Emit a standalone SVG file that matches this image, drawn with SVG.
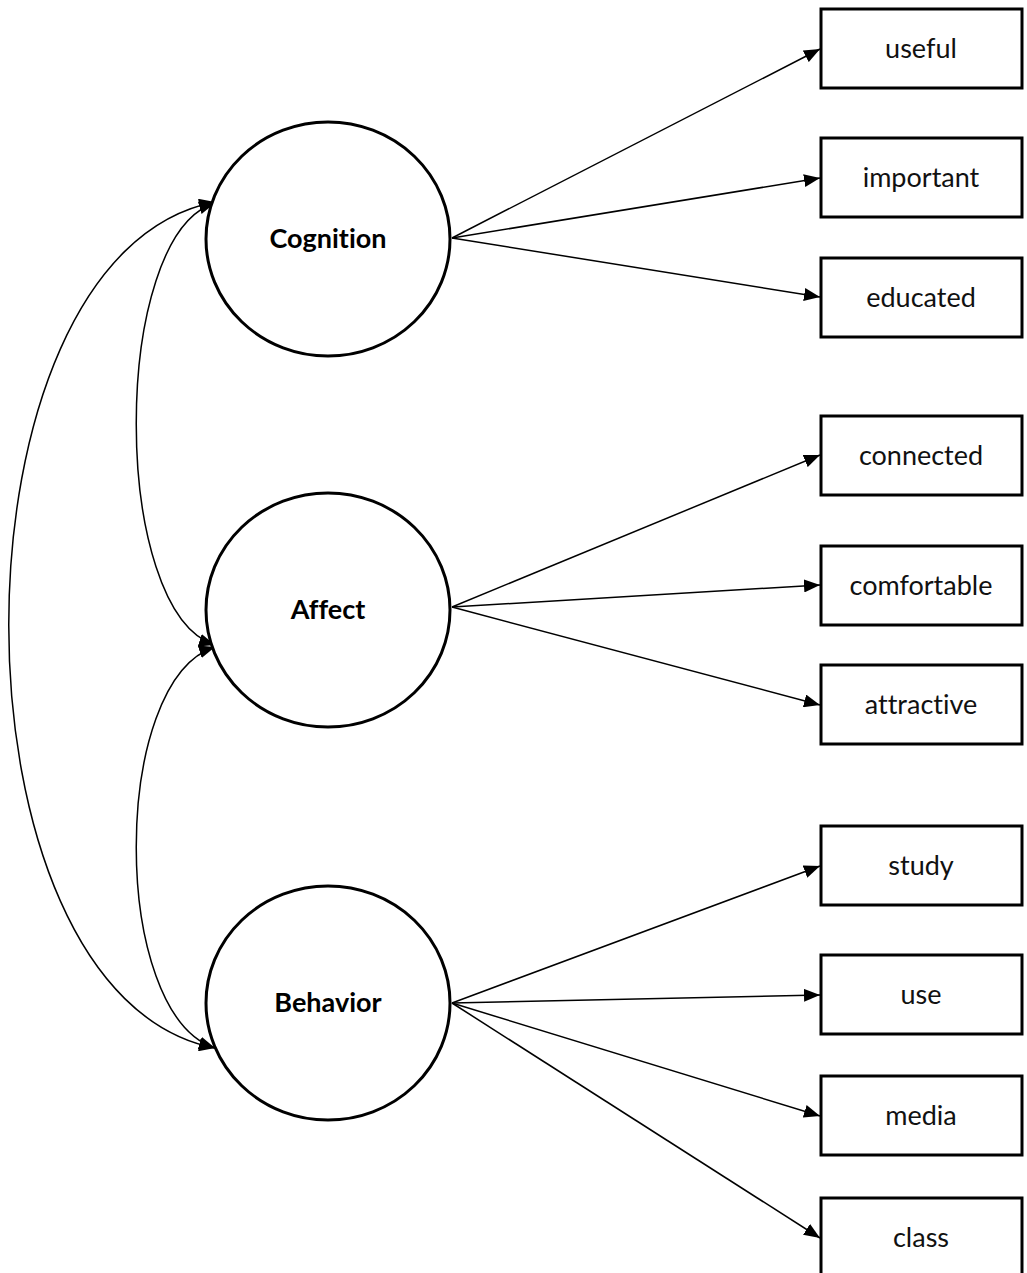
<svg xmlns="http://www.w3.org/2000/svg" width="1027" height="1273" viewBox="0 0 1027 1273">
<style>
.lat{fill:#fff;stroke:#000;stroke-width:3}
.box{fill:#fff;stroke:#000;stroke-width:3}
.lt{font-family:Lato,"Open Sans",sans-serif;font-weight:bold;font-size:27px;text-anchor:middle;fill:#000;font-variant-ligatures:none}
.bt{font-family:Lato,"Open Sans",sans-serif;font-size:27px;text-anchor:middle;fill:#111;font-variant-ligatures:none}
.e{fill:none;stroke:#000;stroke-width:1.5}
</style>
<defs>
<marker id="ah" viewBox="0 0 16 13" refX="16" refY="6.5" markerWidth="16" markerHeight="13" markerUnits="userSpaceOnUse" orient="auto-start-reverse">
<path d="M0,0 L16,6.5 L0,13 z" fill="#000"/>
</marker>
</defs>
<rect width="1027" height="1273" fill="#fff"/>
<g id="connectors">
<line class="e" x1="452" y1="238" x2="820" y2="49" marker-end="url(#ah)"/>
<line class="e" x1="452" y1="238" x2="820" y2="178" marker-end="url(#ah)"/>
<line class="e" x1="452" y1="238" x2="820" y2="297" marker-end="url(#ah)"/>
<line class="e" x1="452" y1="607" x2="820" y2="455" marker-end="url(#ah)"/>
<line class="e" x1="452" y1="607" x2="820" y2="585" marker-end="url(#ah)"/>
<line class="e" x1="452" y1="607" x2="820" y2="705" marker-end="url(#ah)"/>
<line class="e" x1="452" y1="1003" x2="820" y2="866" marker-end="url(#ah)"/>
<line class="e" x1="452" y1="1003" x2="820" y2="995" marker-end="url(#ah)"/>
<line class="e" x1="452" y1="1003" x2="820" y2="1116" marker-end="url(#ah)"/>
<line class="e" x1="452" y1="1003" x2="820" y2="1238" marker-end="url(#ah)"/>
<path class="e" d="M215,203 C110,235 110,612 215,645" marker-start="url(#ah)" marker-end="url(#ah)"/>
<path class="e" d="M215,647 C110,680 110,1014 215,1048" marker-start="url(#ah)" marker-end="url(#ah)"/>
<path class="e" d="M215,202 C-60,255 -60,995 215,1048" marker-start="url(#ah)" marker-end="url(#ah)"/>
</g>
<g id="cognition"><ellipse class="lat" cx="328" cy="239" rx="122" ry="117"/><text class="lt" x="328" y="248">Cognition</text></g>
<g id="affect"><ellipse class="lat" cx="328" cy="610" rx="122" ry="117"/><text class="lt" x="328" y="619">Affect</text></g>
<g id="behavior"><ellipse class="lat" cx="328" cy="1003" rx="122" ry="117"/><text class="lt" x="328" y="1012">Behavior</text></g>
<g id="useful"><rect class="box" x="821" y="9" width="201" height="79"/><text class="bt" x="921" y="58">useful</text></g>
<g id="important"><rect class="box" x="821" y="138" width="201" height="79"/><text class="bt" x="921" y="187">important</text></g>
<g id="educated"><rect class="box" x="821" y="258" width="201" height="79"/><text class="bt" x="921" y="307">educated</text></g>
<g id="connected"><rect class="box" x="821" y="416" width="201" height="79"/><text class="bt" x="921" y="465">connected</text></g>
<g id="comfortable"><rect class="box" x="821" y="546" width="201" height="79"/><text class="bt" x="921" y="595">comfortable</text></g>
<g id="attractive"><rect class="box" x="821" y="665" width="201" height="79"/><text class="bt" x="921" y="714">attractive</text></g>
<g id="study"><rect class="box" x="821" y="826" width="201" height="79"/><text class="bt" x="921" y="875">study</text></g>
<g id="use"><rect class="box" x="821" y="955" width="201" height="79"/><text class="bt" x="921" y="1004">use</text></g>
<g id="media"><rect class="box" x="821" y="1076" width="201" height="79"/><text class="bt" x="921" y="1125">media</text></g>
<g id="class"><rect class="box" x="821" y="1198" width="201" height="79"/><text class="bt" x="921" y="1247">class</text></g>
</svg>
